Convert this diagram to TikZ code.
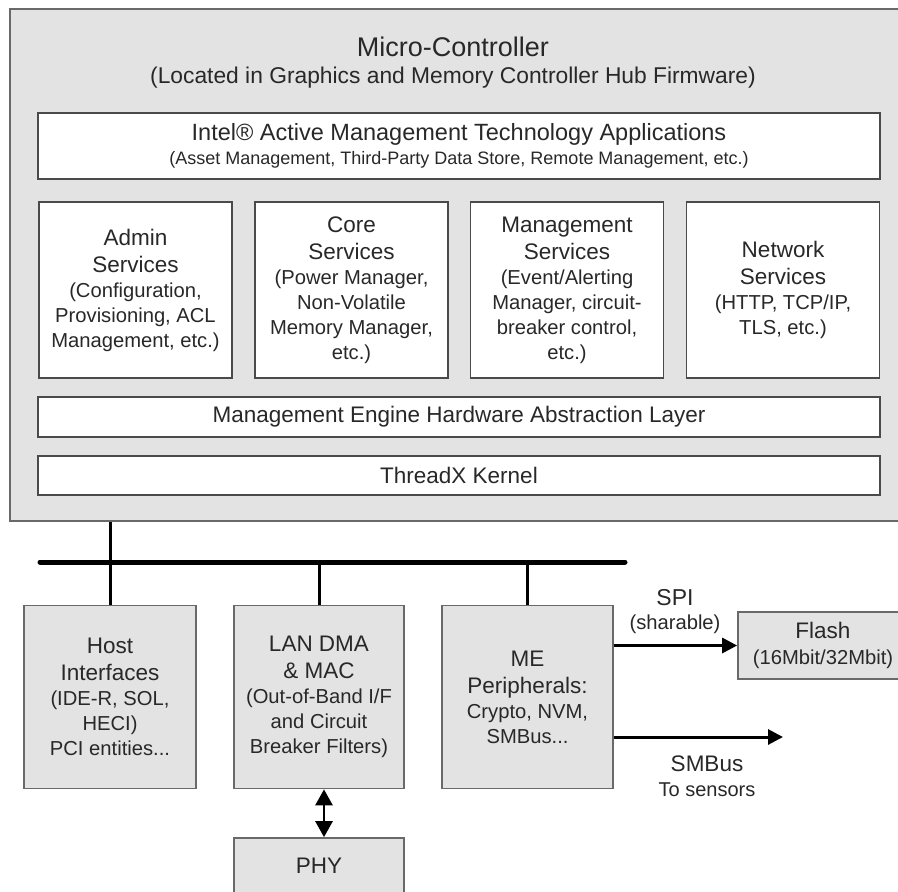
\documentclass[tikz,border=0pt]{standalone}
\usepackage{fontspec}
\setmainfont{Liberation Sans}
\usetikzlibrary{arrows.meta}
\definecolor{boxgray}{RGB}{227,227,227}
\definecolor{edgegray}{RGB}{105,105,105}
\definecolor{txt}{RGB}{40,40,40}
\newcommand{\fsz}[2]{\fontsize{#1}{#2}\selectfont}
\newcommand{\ttl}{\fsz{22.5}{25}}
\begin{document}
\begin{tikzpicture}[x=1pt,y=-1pt,
  outerbox/.style={draw=edgegray, line width=2pt, fill=boxgray, inner sep=0pt},
  whitebox/.style={draw=edgegray!70!black, line width=1.7pt, fill=white, text=txt, align=center, inner sep=0pt, font=\fsz{20.2}{25}},
  graybox/.style={draw=edgegray, line width=1.7pt, fill=boxgray, text=txt, align=center, inner sep=0pt, font=\fsz{20.2}{25}},
  lbl/.style={text=txt, align=center, inner sep=0pt},
  bus/.style={line width=5pt, line cap=round},
  link/.style={line width=3pt},
  arr/.style={line width=3pt, -{Triangle[width=15pt,length=15pt]}},
  dblarr/.style={line width=2.8pt, {Triangle[width=17pt,length=16pt]}-{Triangle[width=17pt,length=16pt]}},
]
\useasboundingbox (0,0) rectangle (898,892);
\clip (0,0) rectangle (898,892);
\fill[white] (0,0) rectangle (898,892);

% outer micro-controller box (runs past the right edge)
\node[outerbox, minimum width=896pt, minimum height=512pt] (mc) at (458,265) {};
\node[lbl, font=\fsz{27}{30}] (title) at (453,47) {Micro-Controller};
\node[lbl, font=\fsz{22.8}{26}] (subtitle) at (453,78) {(Located in Graphics and Memory Controller Hub Firmware)};

\node[whitebox, minimum width=842pt, minimum height=66pt, font=\fsz{18}{24}] (amt) at (459,146)
  {{\fsz{23.5}{24}Intel® Active Management Technology Applications}\\(Asset Management, Third-Party Data Store, Remote Management, etc.)};

\node[whitebox, minimum width=193pt, minimum height=176pt] (admin) at (135.5,290)
  {{\ttl Admin}\\[2pt]{\ttl Services}\\(Configuration,\\Provisioning, ACL\\Management, etc.)};
\node[whitebox, minimum width=193pt, minimum height=176pt] (core) at (351.5,290)
  {{\ttl Core}\\[2pt]{\ttl Services}\\(Power Manager,\\Non-Volatile\\Memory Manager,\\etc.)};
\node[whitebox, minimum width=193pt, minimum height=176pt] (mgmt) at (567,290)
  {{\ttl Management}\\[2pt]{\ttl Services}\\(Event/Alerting\\Manager, circuit-\\breaker control,\\etc.)};
\node[whitebox, minimum width=193pt, minimum height=176pt] (net) at (783,290)
  {{\ttl Network}\\[2pt]{\ttl Services}\\(HTTP, TCP/IP,\\TLS, etc.)};

\node[whitebox, minimum width=842pt, minimum height=40pt, font=\fsz{22.5}{25}] (hal) at (459,417)
  {Management Engine Hardware Abstraction Layer};
\node[whitebox, minimum width=842pt, minimum height=39pt, font=\fsz{22.5}{25}] (kernel) at (459,475.5)
  {ThreadX Kernel};

% lower boxes
\node[graybox, minimum width=172pt, minimum height=183pt] (host) at (110,697)
  {{\ttl Host}\\[2pt]{\ttl Interfaces}\\(IDE-R, SOL,\\HECI)\\PCI entities...};
\node[graybox, minimum width=170pt, minimum height=183pt] (lan) at (319,697)
  {{\ttl LAN DMA}\\[2pt]{\ttl \& MAC}\\(Out-of-Band I/F\\and Circuit\\Breaker Filters)};
\node[graybox, minimum width=171pt, minimum height=183pt] (me) at (527.5,697)
  {{\ttl ME}\\[2pt]{\ttl Peripherals:}\\Crypto, NVM,\\SMBus...};
\node[graybox, minimum width=170pt, minimum height=67pt] (flash) at (823,645.5)
  {{\ttl Flash}\\[1pt](16Mbit/32Mbit)};
\node[graybox, minimum width=170pt, minimum height=56pt, font=\ttl] (phy) at (319,866) {PHY};

% bus
\coordinate (busL) at (40,562);
\coordinate (busR) at (625,562);
\draw[bus] (busL) -- (busR);
\draw[link] (mc.south -| host.north) -- (host.north);
\draw[link] (busL -| lan.north) -- (lan.north);
\draw[link] (busL -| me.north) -- (me.north);

% arrows
\draw[dblarr] ([xshift=5pt]lan.south) -- ([xshift=5pt]phy.north);
\draw[arr] (flash.west -| me.east) -- (flash.west);
\coordinate (smbEnd) at (783,737);
\draw[arr] (smbEnd -| me.east) -- (smbEnd);

\node[lbl, font=\fsz{20.2}{24}] (spilbl) at (675,612) {{\fsz{23}{24}SPI}\\(sharable)};
\node[lbl, font=\fsz{20}{25}] (smblbl) at (707,776.5) {{\ttl SMBus}\\To sensors};
\end{tikzpicture}
\end{document}
